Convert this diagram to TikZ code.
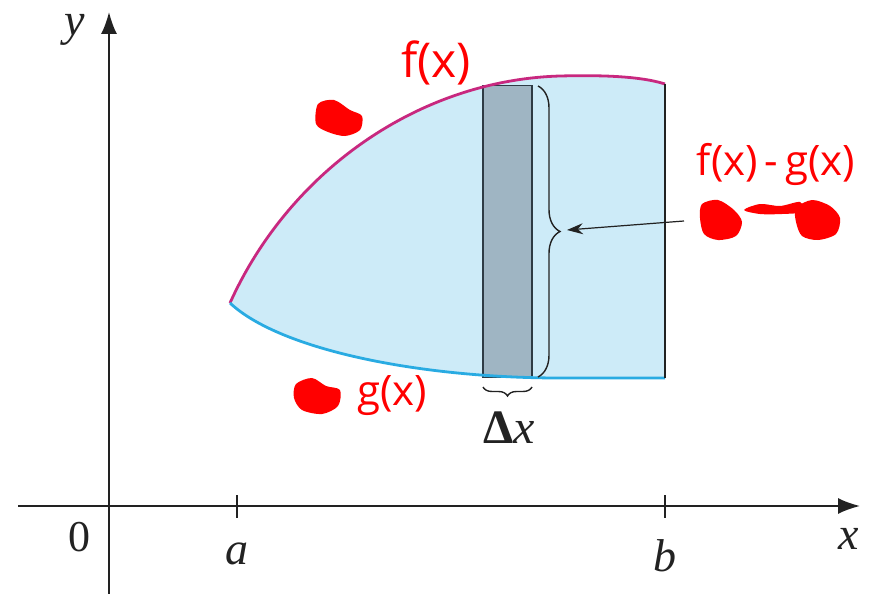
\documentclass[tikz,border=0pt]{standalone}
\usepackage{fontspec}
\setmainfont{Liberation Serif}
\newfontfamily\handfont{Open Sans}
\usetikzlibrary{arrows.meta,decorations.pathreplacing}
\definecolor{regionfill}{HTML}{CDEBF8}
\definecolor{stripfill}{HTML}{9FB5C3}
\definecolor{stripline}{HTML}{2E3B45}
\definecolor{fcol}{HTML}{C8287F}
\definecolor{gcol}{HTML}{29ABE2}
\definecolor{axiscol}{HTML}{222222}
\definecolor{inkred}{HTML}{FF0000}
\begin{document}
\begin{tikzpicture}[x=1pt,y=-1pt,
  axisline/.style={line width=1.8pt,draw=axiscol},
  ticklabel/.style={font=\fontsize{46}{50}\selectfont\itshape,text=axiscol,inner sep=0pt},
  stripbox/.style={draw=stripline,fill=stripfill,line width=1.8pt,inner sep=0pt,minimum width=49pt,minimum height=292pt},
  bracestyle/.style={decorate,line width=1.4pt,draw=axiscol},
  hand/.style={font=\handfont\fontsize{48}{52}\selectfont,text=inkred,inner sep=0pt},
  blob/.style={fill=inkred,draw=none}]
\useasboundingbox (0,0) rectangle (881,594);
% region
\fill[regionfill] (230,303) .. controls (290,170) and (420,80) .. (560,76)
  .. controls (600,75) and (640,76) .. (665,84) -- (665,378) -- (560,378)
  .. controls (420,378) and (280,350) .. (230,303) -- cycle;
% strip
\node[stripbox] (strip) at (507.5,231.5) {};
% boundary curves
\draw[fcol,line width=2.8pt] (230,303) .. controls (290,170) and (420,80) .. (560,76)
  .. controls (600,75) and (640,76) .. (665,84);
\draw[gcol,line width=2.8pt] (230,303) .. controls (280,350) and (420,378) .. (560,378) -- (665,378);
% right edge
\coordinate (rtop) at (665,84);
\coordinate (rbot) at (665,378);
\draw[axiscol,line width=2.2pt] (rtop) -- (rbot);
% braces
\coordinate (bra1) at (538,86);
\coordinate (bra2) at (538,377);
\draw[bracestyle,decoration={brace,amplitude=22pt}] (bra1) -- (bra2);
\coordinate (brb1) at (532,387);
\coordinate (brb2) at (483,387);
\draw[bracestyle,decoration={brace,amplitude=9pt}] (brb1) -- (brb2);
\node[font=\fontsize{48}{52}\selectfont,text=axiscol,inner sep=0pt] (dx) at (509,428) {{\bfseries Δ}{\itshape x}};
% arrow to brace
\coordinate (arrS) at (684,221);
\coordinate (arrE) at (567,230);
\draw[axiscol,line width=1.2pt,-{Stealth[length=16pt,width=11pt]}] (arrS) -- (arrE);
% axes
\coordinate (xs) at (18,506);
\coordinate (xe) at (860,506);
\coordinate (ys) at (109,594);
\coordinate (ye) at (109,12);
\draw[axisline,-{Latex[length=22pt,width=16pt]}] (xs) -- (xe);
\draw[axisline,-{Latex[length=22pt,width=16pt]}] (ys) -- (ye);
% ticks
\coordinate (ta1) at (237,495); \coordinate (ta2) at (237,518);
\coordinate (tb1) at (665,495); \coordinate (tb2) at (665,518);
\draw[axisline] (ta1) -- (ta2);
\draw[axisline] (tb1) -- (tb2);
% axis labels
\node[ticklabel,font=\fontsize{44}{48}\selectfont] (zero) at (79,537) {0};
\node[ticklabel] (la) at (237,554) {a};
\node[ticklabel] (lb) at (665,556) {b};
\node[ticklabel] (lx) at (849,539) {x};
\node[ticklabel] (ly) at (75,30) {y};
% handwritten annotations
\node[hand] (hf) at (436,63) {f(x)};
\node[hand,font=\handfont\fontsize{42}{46}\selectfont] (hfg) at (776,164) {f(x)\,-\,g(x)};
\node[hand,font=\handfont\fontsize{42}{46}\selectfont] (hg) at (392,396) {g(x)};
% scribbles
\path[blob] plot[smooth cycle] coordinates {(318,104) (334,100) (350,110) (362,116) (360,130) (345,136) (328,132) (316,124)};
\path[blob] plot[smooth cycle] coordinates {(296,384) (312,378) (326,386) (340,390) (338,406) (322,414) (302,410) (294,398)};
\path[blob] plot[smooth cycle] coordinates {(702,204) (718,200) (734,210) (742,222) (736,236) (718,240) (704,234) (700,218)};
\path[blob] plot[smooth cycle] coordinates {(796,208) (812,200) (830,206) (840,218) (836,234) (818,240) (802,236) (796,222)};
\path[blob] plot[smooth cycle] coordinates {(744,210) (760,204) (780,206) (800,202) (802,212) (782,214) (760,214)};
\end{tikzpicture}
\end{document}
